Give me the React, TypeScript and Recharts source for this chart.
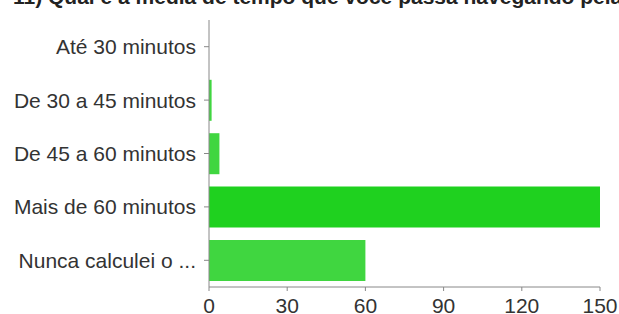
import { Bar, BarChart, Cell, XAxis, YAxis } from "recharts"

const categories = [
  "Até 30 minutos",
  "De 30 a 45 minutos",
  "De 45 a 60 minutos",
  "Mais de 60 minutos",
  "Nunca calculei o ...",
]
const counts = [0, 1, 4, 150, 60]
const xTicks = [0, 30, 60, 90, 120, 150]
const title = "11) Qual é a média de tempo que você passa navegando pela internet por dia?"

const data = categories.map((name, i) => ({ name, value: counts[i] }))

const font = "'Liberation Sans', Arial, sans-serif"

export default function App() {
  return (
    <div style={{ position: "absolute", left: 0, top: 0, width: 619, height: 314, overflow: "hidden", background: "#fff" }}>
      <div
        style={{
          position: "absolute",
          left: 13,
          top: -15,
          fontFamily: font,
          fontWeight: "bold",
          fontSize: 21,
          color: "#222",
          whiteSpace: "nowrap",
        }}
      >
        {title}
      </div>
      <BarChart
        width={619}
        height={314}
        data={data}
        layout="vertical"
        margin={{ top: 20, right: 19, bottom: 0, left: 0 }}
        barCategoryGap="12%"
      >
        <XAxis
          type="number"
          domain={[0, 150]}
          ticks={xTicks}
          height={27}
          stroke="#888"
          tickSize={4}
          tickMargin={7}
          tick={{ fill: "#333", fontSize: 21, fontFamily: font }}
          interval={0}
        />
        <YAxis
          type="category"
          dataKey="name"
          width={209}
          stroke="#888"
          tickSize={5}
          tickMargin={8}
          tick={{ fill: "#333", fontSize: 21, fontFamily: font }}
          interval={0}
        />
        <Bar dataKey="value" isAnimationActive={false}>
          {data.map((d, i) => (
            <Cell key={d.name} fill={i === 3 ? "#1fd11f" : "#40d640"} />
          ))}
        </Bar>
      </BarChart>
    </div>
  )
}
